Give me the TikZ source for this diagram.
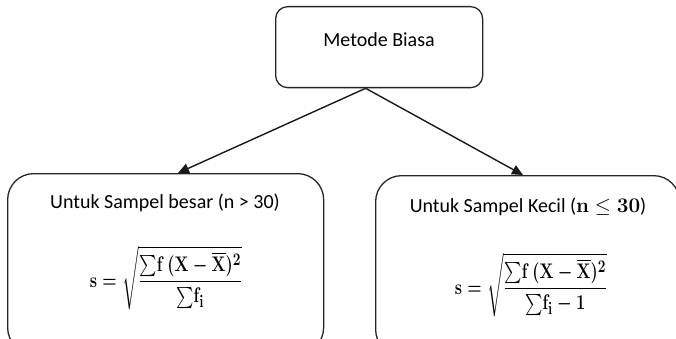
\documentclass[tikz,border=0pt]{standalone}
\usepackage{amsmath}
\usepackage{graphicx}
\usepackage[no-math]{fontspec}
\setmainfont{Carlito}
\usetikzlibrary{arrows.meta}
\newcommand{\bfv}[1]{\mathbf{#1}}
\newcommand{\tsum}{{\textstyle\sum}}
\newcommand{\tallmath}[1]{\scalebox{0.95}[1.22]{#1}}
\begin{document}
\begin{tikzpicture}[x=1pt,y=-1pt,
  line width=1.3pt,
  box/.style={draw=black!85, rounded corners=#1, inner sep=0pt},
  box/.default=12pt,
  label/.style={font=\fontsize{20}{24}\selectfont, inner sep=0pt, anchor=base},
  formula/.style={font=\fontsize{19}{23}\selectfont\boldmath, inner sep=0pt},
  link/.style={draw=black!90, line width=1.4pt, -{Triangle[length=11pt,width=10pt]}}]
\useasboundingbox (0,0) rectangle (676,339);
\clip (0,0) rectangle (676,339);

% top node
\node[box, minimum width=207pt, minimum height=81pt, anchor=north west] (top) at (275,6) {};
\node[label] (toptext) at (379,47) {Metode Biasa};

% lower boxes (they run past the lower edge)
\node[box=26pt, minimum width=316pt, minimum height=180pt, anchor=north west] (big) at (7,173) {};
\node[box=26pt, minimum width=304pt, minimum height=180pt, anchor=north west] (small) at (375,175) {};

\node[label] (bigtitle) at (165,208) {Untuk Sampel besar (n > 30)};
\node[label] (smalltitle) at (528,212) {Untuk Sampel Kecil ($\mathbf{n} \leq \mathbf{30}$)};

\node[formula] (bigformula) at (166,278)
  {\tallmath{$\displaystyle \bfv{s}=\sqrt{\frac{\tsum \bfv{f}\,(\bfv{X}-\overline{\bfv{X}})^{2}}{\tsum \bfv{f}_{\bfv{i}}}}$}};
\node[formula] (smallformula) at (531,285)
  {\tallmath{$\displaystyle \bfv{s}=\sqrt{\frac{\tsum \bfv{f}\,(\bfv{X}-\overline{\bfv{X}})^{2}}{\tsum \bfv{f}_{\bfv{i}}-\bfv{1}}}$}};

% connectors
\coordinate (fork) at ([xshift=-13.5pt]top.south);
\coordinate (bigin) at ([xshift=171pt]big.north west);
\coordinate (smallin) at ([xshift=148pt]small.north west);
\draw[link] (fork) -- (bigin);
\draw[link] (fork) -- (smallin);
\end{tikzpicture}
\end{document}
